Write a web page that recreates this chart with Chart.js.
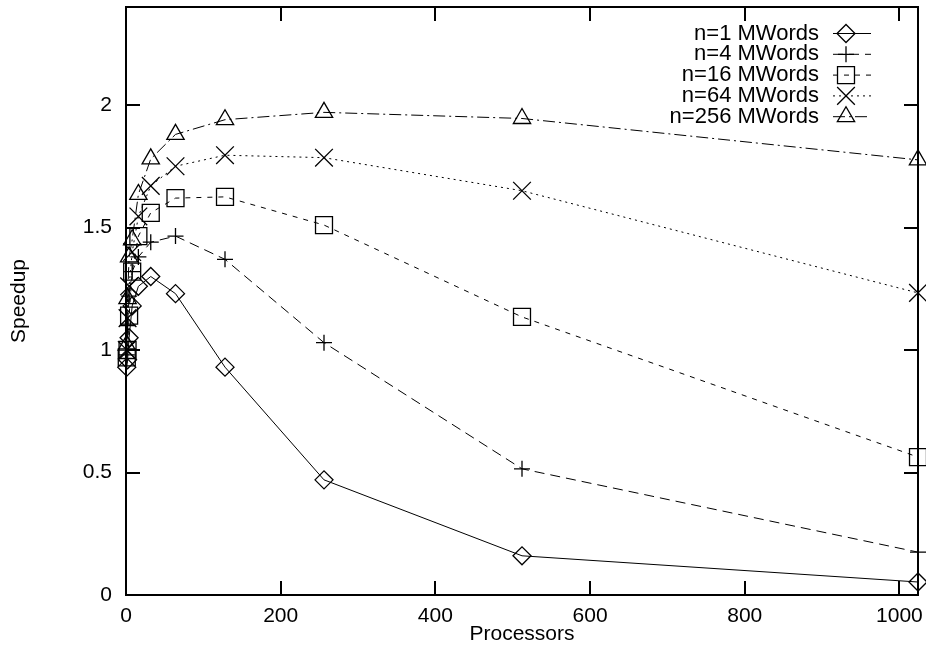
<!DOCTYPE html>
<html>
<head>
<meta charset="utf-8">
<title>Speedup vs Processors</title>
<script src="https://cdn.jsdelivr.net/npm/chart.js@4.4.1/dist/chart.umd.min.js"></script>
<style>
    html, body { margin: 0; padding: 0; background: #fff; }
    #wrap { width: 926px; height: 651px; position: relative; }
</style>
</head>
<body>
<div id="wrap"><canvas id="speedupChart"></canvas></div>
<script>
// 数据
const processors = [1, 2, 4, 8, 16, 32, 64, 128, 256, 512, 1024];
const seriesLabels = ['n=1 MWords', 'n=4 MWords', 'n=16 MWords', 'n=64 MWords', 'n=256 MWords'];
const speedupN1 = [0.93, 0.96, 1.05, 1.18, 1.26, 1.30, 1.23, 0.93, 0.47, 0.16, 0.053];
const speedupN4 = [0.98, 1.10, 1.22, 1.32, 1.38, 1.44, 1.465, 1.37, 1.03, 0.515, 0.175];
const speedupN16 = [0.97, 1.00, 1.14, 1.32, 1.465, 1.56, 1.62, 1.625, 1.51, 1.135, 0.563];
const speedupN64 = [1.00, 1.13, 1.26, 1.40, 1.545, 1.67, 1.75, 1.795, 1.785, 1.65, 1.233];
const speedupN256 = [1.02, 1.21, 1.38, 1.45, 1.635, 1.78, 1.88, 1.94, 1.97, 1.945, 1.776];
const xTicks = [0, 200, 400, 600, 800, 1000];
const yTicks = [0, 0.5, 1, 1.5, 2];

const FONT = 'Liberation Sans, Arial, sans-serif';

function toPoints(values) {
    return processors.map((p, i) => ({ x: p, y: values[i] }));
}

// 每条曲线的线型和点型 (gnuplot 风格)
function makeDataset(label, values, pointStyle, radius, dash) {
    return {
        label: label,
        data: toPoints(values),
        borderColor: '#000',
        backgroundColor: 'rgba(0,0,0,0)',
        borderWidth: 1,
        borderDash: dash,
        pointStyle: pointStyle,
        pointRadius: radius,
        pointBorderWidth: 1.3,
        pointBorderColor: '#000',
        pointBackgroundColor: 'rgba(0,0,0,0)',
        tension: 0,
        clip: false
    };
}

const datasets = [
    makeDataset(seriesLabels[0], speedupN1, 'rectRot', 9, []),
    makeDataset(seriesLabels[1], speedupN4, 'cross', 8, [10, 6]),
    makeDataset(seriesLabels[2], speedupN16, 'rect', 12, [5, 6]),
    makeDataset(seriesLabels[3], speedupN64, 'crossRot', 12.5, [2, 4]),
    makeDataset(seriesLabels[4], speedupN256, 'triangle', 10, [12, 4, 2, 4])
];

/**
 * 边框 + 向内刻度 + 刻度标签
 */
const frameTicks = {
    id: 'frameTicks',
    beforeDatasetsDraw(chart) {
        const { ctx, chartArea: a, scales } = chart;
        const len = 14;
        ctx.save();
        ctx.strokeStyle = '#000';
        ctx.lineWidth = 2;
        ctx.setLineDash([]);
        ctx.beginPath();
        scales.x.ticks.forEach(t => {
            const px = Math.round(scales.x.getPixelForValue(t.value));
            ctx.moveTo(px, a.bottom); ctx.lineTo(px, a.bottom - len);
            ctx.moveTo(px, a.top); ctx.lineTo(px, a.top + len);
        });
        scales.y.ticks.forEach(t => {
            const py = Math.round(scales.y.getPixelForValue(t.value));
            ctx.moveTo(a.left, py); ctx.lineTo(a.left + len, py);
            ctx.moveTo(a.right, py); ctx.lineTo(a.right - len, py);
        });
        ctx.stroke();
        ctx.strokeRect(a.left, a.top, a.right - a.left, a.bottom - a.top);

        // 刻度标签
        ctx.fillStyle = '#000';
        ctx.font = '21px ' + FONT;
        ctx.textBaseline = 'middle';
        ctx.textAlign = 'center';
        scales.x.ticks.forEach(t => {
            ctx.fillText(String(t.value), scales.x.getPixelForValue(t.value), a.bottom + 21);
        });
        ctx.textAlign = 'right';
        scales.y.ticks.forEach(t => {
            ctx.fillText(String(t.value), a.left - 14, scales.y.getPixelForValue(t.value));
        });
        ctx.restore();
    }
};

/**
 * 右上角图例: 文本右对齐 + 线型样本 + 点
 */
const gnuLegend = {
    id: 'gnuLegend',
    afterDraw(chart) {
        const ctx = chart.ctx;
        const textRight = 819, lineStart = 833, lineEnd = 871, markX = 846;
        const top = 33.5, step = 20.8;
        ctx.save();
        ctx.font = '22px ' + FONT;
        ctx.textAlign = 'right';
        ctx.textBaseline = 'middle';
        chart.data.datasets.forEach((ds, i) => {
            const y = top + i * step;
            ctx.fillStyle = '#000';
            ctx.fillText(ds.label, textRight, y);
            ctx.strokeStyle = '#000';
            ctx.lineWidth = 1;
            ctx.setLineDash(ds.borderDash);
            ctx.beginPath();
            ctx.moveTo(lineStart, y);
            ctx.lineTo(lineEnd, y);
            ctx.stroke();
            ctx.setLineDash([]);
            ctx.lineWidth = ds.pointBorderWidth;
            ctx.fillStyle = 'rgba(0,0,0,0)';
            Chart.helpers.drawPoint(ctx, {
                pointStyle: ds.pointStyle,
                radius: ds.pointRadius,
                rotation: 0,
                borderWidth: ds.pointBorderWidth
            }, markX, y);
        });
        ctx.restore();
    }
};

new Chart(document.getElementById('speedupChart'), {
    type: 'line',
    data: { datasets: datasets },
    options: {
        responsive: true,
        maintainAspectRatio: false,
        animation: false,
        events: [],
        layout: {
            autoPadding: false,
            padding: { top: 7, right: 8, left: 0, bottom: 0 }
        },
        plugins: {
            legend: { display: false },
            tooltip: { enabled: false }
        },
        scales: {
            x: {
                type: 'linear',
                min: 0,
                max: 1024,
                afterFit(scale) { scale.height = 56; },
                afterBuildTicks(scale) { scale.ticks = xTicks.map(v => ({ value: v })); },
                grid: { display: false, drawTicks: false },
                border: { display: false },
                ticks: { display: false },
                title: {
                    display: true,
                    text: 'Processors',
                    color: '#000',
                    padding: { top: 0, bottom: 4 },
                    font: { family: FONT, size: 21 }
                }
            },
            y: {
                type: 'linear',
                min: 0,
                max: 2.4,
                afterFit(scale) { scale.width = 126; },
                afterBuildTicks(scale) { scale.ticks = yTicks.map(v => ({ value: v })); },
                grid: { display: false, drawTicks: false },
                border: { display: false },
                ticks: { display: false },
                title: {
                    display: true,
                    text: 'Speedup',
                    color: '#000',
                    padding: { top: 7, bottom: 0 },
                    font: { family: FONT, size: 21 }
                }
            }
        }
    },
    plugins: [frameTicks, gnuLegend]
});
</script>
</body>
</html>
